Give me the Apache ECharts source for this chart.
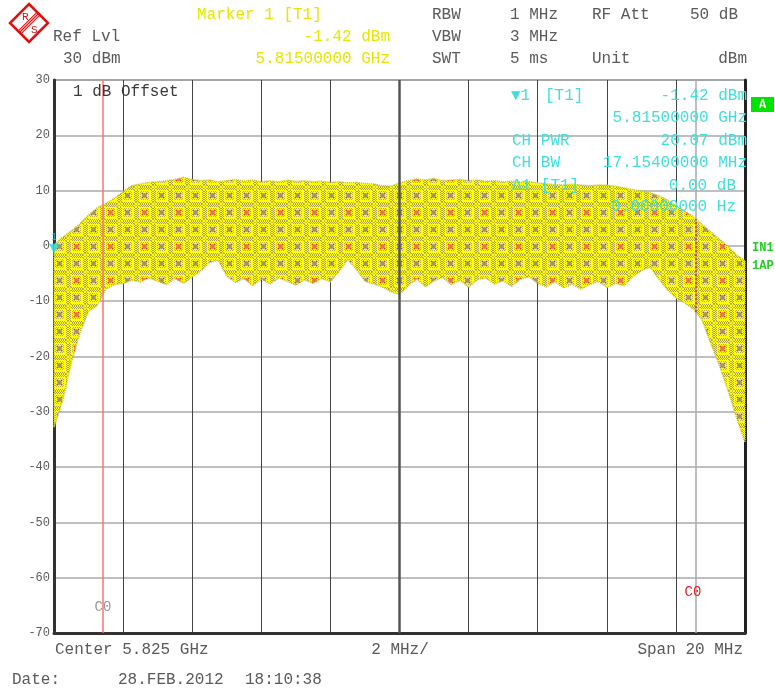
<!DOCTYPE html>
<html><head><meta charset="utf-8">
<script src="https://cdn.jsdelivr.net/npm/echarts@6/dist/echarts.min.js"></script>
<style>html,body{margin:0;padding:0;background:#fff}#c{width:775px;height:691px}</style>
</head><body><div id="c"></div>
<script>
// Frequency offset from centre (MHz), centre = 5.825 GHz, span 20 MHz
const freqMHz = [-10,-9.75,-9.5,-9.25,-9,-8.75,-8.5,-8.25,-8,-7.75,-7.5,-7.25,-7,-6.75,-6.5,-6.25,-6,-5.75,-5.5,-5.25,
  -5,-4.75,-4.5,-4.25,-4,-3.75,-3.5,-3.25,-3,-2.75,-2.5,-2.25,-2,-1.75,-1.5,-1.25,-1,-0.75,-0.5,-0.25,
  0,0.25,0.5,0.75,1,1.25,1.5,1.75,2,2.25,2.5,2.75,3,3.25,3.5,3.75,4,4.25,4.5,4.75,
  5,5.25,5.5,5.75,6,6.25,6.5,6.75,7,7.25,7.5,7.75,8,8.25,8.5,8.75,9,9.25,9.5,9.75,10];
// Upper envelope of the trace (dBm)
const upperDbm = [0.2,1.6,2.7,4.0,5.6,6.9,7.7,8.6,9.8,10.9,11.2,11.5,11.6,11.8,12.0,12.4,12.0,11.8,11.9,11.6,
  11.8,12.0,11.7,11.9,11.6,11.8,11.6,11.9,11.7,11.8,11.6,11.7,11.5,11.6,11.4,11.5,11.3,11.2,10.9,10.8,
  11.4,11.8,12.1,11.9,12.2,11.8,11.9,12.0,11.8,11.9,11.7,11.8,11.6,11.7,11.5,11.6,11.4,11.2,11.1,11.0,
  11.2,11.0,10.9,11.0,11.0,10.8,10.5,10.2,9.9,9.6,9.1,8.3,7.3,6.3,5.3,3.9,2.6,1.3,0.0,-1.6,-2.7];
// Lower envelope of the trace (dBm)
const lowerDbm = [-32.8,-28.0,-21.2,-15.8,-11.8,-10.8,-7.8,-7.0,-6.8,-6.2,-6.5,-5.8,-6.4,-7.0,-5.9,-6.8,-5.6,-4.5,-3.0,-2.6,
  -5.5,-6.6,-5.9,-7.2,-6.0,-6.9,-5.8,-6.4,-7.1,-6.1,-6.8,-5.9,-6.5,-4.6,-2.5,-4.2,-6.4,-6.9,-7.4,-8.3,
  -8.8,-7.2,-6.0,-7.4,-6.3,-5.7,-7.0,-6.2,-7.5,-6.1,-5.8,-6.9,-6.3,-7.3,-6.0,-5.6,-6.8,-7.4,-6.5,-7.6,
  -6.9,-7.8,-7.0,-6.4,-7.5,-6.8,-7.2,-5.6,-4.5,-3.8,-6.0,-7.9,-9.4,-10.3,-11.4,-13.3,-17.5,-21.5,-26.0,-31.0,-35.5];
const yTickLabels = ['30','20','10','0','-10','-20','-30','-40','-50','-60','-70'];
const channelEdges = [-8.577, 8.577];     // CH BW 17.154 MHz
const marker1 = [-10, -1.42];             // Marker 1 [T1]

const MONO = '"Liberation Mono","DejaVu Sans Mono",monospace';

function makePattern() {
  const N = 17;
  const c = document.createElement('canvas');
  c.width = N; c.height = N;
  const g = c.getContext('2d');
  g.fillStyle = '#ffff00'; g.fillRect(0, 0, N, N);
  for (let y = 0; y < N; y++) for (let x = 0; x < N; x++) {
    const inBandX = (x <= 2 || x >= 15), inBandY = (y <= 2 || y >= 15);
    const dx = Math.abs(x - 8), dy = Math.abs(y - 8);
    if ((inBandX || inBandY) && (x + y) % 2 === 0 && !(inBandX && inBandY)) {
      g.fillStyle = '#aaa24a'; g.fillRect(x, y, 1, 1);
    } else if (inBandX && inBandY && (x + y) % 2 === 1) {
      g.fillStyle = '#c8c040'; g.fillRect(x, y, 1, 1);
    } else if (dx <= 1 && dy <= 1) {
      g.fillStyle = '#9c9470'; g.fillRect(x, y, 1, 1);
    } else if (dx <= 3 && dy <= 3 && (dx === 2 || dy === 2)) {
      g.fillStyle = ((x + y) % 2 === 0) ? '#f08a28' : '#c8b070'; g.fillRect(x, y, 1, 1);
    } else if (dx <= 4 && dy <= 4 && (dx + dy) % 2 === 1 && (dx === 4 || dy === 4)) {
      g.fillStyle = '#b8b050'; g.fillRect(x, y, 1, 1);
    }
  }
  g.fillStyle = '#e83020';
  g.fillRect(6, 6, 1, 1); g.fillRect(10, 10, 1, 1); g.fillRect(10, 6, 1, 1); g.fillRect(6, 10, 1, 1);
  return c;
}
const pattern = { image: makePattern(), repeat: 'repeat' };

function interp(arr, f) {
  for (let i = 0; i < freqMHz.length - 1; i++) {
    if (f >= freqMHz[i] && f <= freqMHz[i + 1]) {
      const t = (f - freqMHz[i]) / (freqMHz[i + 1] - freqMHz[i]);
      return arr[i] + t * (arr[i + 1] - arr[i]);
    }
  }
  return arr[arr.length - 1];
}

function T(x, y, text, fill, opt) {
  opt = opt || {};
  return {
    type: 'text', x: x, y: y, z: 100, silent: true,
    style: {
      text: text, fill: fill,
      font: (opt.weight || 'normal') + ' ' + (opt.size || 16) + 'px ' + MONO,
      align: opt.align || 'left', verticalAlign: 'middle'
    }
  };
}

const GRAY = '#5a5a5a', YEL = '#e6e600', CYAN = '#40dede', GREEN = '#22cc22';

const graphics = [
  // R&S logo
  { type: 'polygon', z: 100, silent: true, shape: { points: [[29,4],[48,23],[29,42],[10,23]] },
    style: { fill: '#fff', stroke: '#e01010', lineWidth: 2.5 } },
  { type: 'line', z: 101, silent: true, shape: { x1: 18.1, y1: 31.1, x2: 37.1, y2: 12.1 }, style: { stroke: '#e01010', lineWidth: 1.2 } },
  { type: 'line', z: 101, silent: true, shape: { x1: 19.5, y1: 32.5, x2: 38.5, y2: 13.5 }, style: { stroke: '#e01010', lineWidth: 1.2 } },
  { type: 'line', z: 101, silent: true, shape: { x1: 20.9, y1: 33.9, x2: 39.9, y2: 14.9 }, style: { stroke: '#e01010', lineWidth: 1.2 } },
  T(22, 17, 'R', '#e01010', { size: 11 }),
  T(31, 30, 'S', '#e01010', { size: 11 }),
  // header
  T(197, 15, 'Marker 1 [T1]', YEL),
  T(53, 37, 'Ref Lvl', GRAY),
  T(390, 37, '-1.42 dBm', YEL, { align: 'right' }),
  T(63, 59, '30 dBm', GRAY),
  T(390, 59, '5.81500000 GHz', YEL, { align: 'right' }),
  T(432, 15, 'RBW', GRAY), T(510, 15, '1 MHz', GRAY), T(592, 15, 'RF Att', GRAY), T(690, 15, '50 dB', GRAY),
  T(432, 37, 'VBW', GRAY), T(510, 37, '3 MHz', GRAY),
  T(432, 59, 'SWT', GRAY), T(510, 59, '5 ms', GRAY), T(592, 59, 'Unit', GRAY), T(747, 59, 'dBm', GRAY, { align: 'right' }),
  // inside plot
  T(73, 92, '1 dB Offset', '#3a3a3a'),
  T(511, 96, '\u25BC1', CYAN), T(545, 96, '[T1]', CYAN), T(747, 96, '-1.42 dBm', CYAN, { align: 'right' }),
  T(747, 118, '5.81500000 GHz', CYAN, { align: 'right' }),
  T(512, 141, 'CH PWR', CYAN), T(747, 141, '20.07 dBm', CYAN, { align: 'right' }),
  T(512, 163, 'CH BW', CYAN), T(747, 163, '17.15400000 MHz', CYAN, { align: 'right' }),
  T(512, 186, '\u03941 [T1]', CYAN), T(736, 186, '0.00 dB', CYAN, { align: 'right' }),
  T(736, 207, '0.00000000 Hz', CYAN, { align: 'right' }),
  T(103, 607, 'C0', '#999', { size: 14, align: 'center' }),
  T(693, 592, 'C0', '#e02020', { size: 14, align: 'center' }),
  // right side annotations
  { type: 'rect', z: 100, silent: true, shape: { x: 751, y: 97, width: 23, height: 15 }, style: { fill: '#00e400' } },
  T(762.5, 105, 'A', '#fff', { size: 12, weight: 'bold', align: 'center' }),
  T(752, 248, 'IN1', GREEN, { size: 12, weight: 'bold' }),
  T(752, 266, '1AP', GREEN, { size: 12, weight: 'bold' }),
  // bottom
  T(55, 650, 'Center 5.825 GHz', GRAY),
  T(400, 650, '2 MHz/', GRAY, { align: 'center' }),
  T(743, 650, 'Span 20 MHz', GRAY, { align: 'right' }),
  T(12, 680, 'Date:', GRAY),
  T(118, 680, '28.FEB.2012', GRAY),
  T(245, 680, '18:10:38', GRAY)
];

const rightUp = interp(upperDbm, channelEdges[1]);
const rightLo = interp(lowerDbm, channelEdges[1]);

const chart = echarts.init(document.getElementById('c'), null, { renderer: 'canvas' });
chart.setOption({
  animation: false,
  backgroundColor: '#fff',
  grid: { left: 54, right: 30, top: 80, bottom: 58, show: true, borderColor: '#999', borderWidth: 2 },
  xAxis: {
    type: 'value', min: -10, max: 10, interval: 2,
    axisLine: { show: true, onZero: false, lineStyle: { color: '#333', width: 3 } },
    axisTick: { show: false }, axisLabel: { show: false },
    splitLine: { show: true, lineStyle: { color: '#444', width: 1 } }
  },
  yAxis: [{
    type: 'value', min: -70, max: 30, interval: 10,
    axisLine: { show: true, onZero: false, lineStyle: { color: '#333', width: 3 } },
    axisTick: { show: false },
    axisLabel: { color: GRAY, fontFamily: MONO, fontSize: 12, margin: 4,
      formatter: function (v) { return yTickLabels[Math.round((30 - v) / 10)]; } },
    splitLine: { show: true, lineStyle: { color: '#aaa', width: 1.5 } }
  }, {
    type: 'value', min: -70, max: 30, interval: 10, position: 'right',
    axisLine: { show: true, onZero: false, lineStyle: { color: '#222', width: 3 } },
    axisTick: { show: false }, axisLabel: { show: false }, splitLine: { show: false }
  }],
  series: [
    { type: 'line', data: [], z: 1, silent: true,
      markLine: { silent: true, symbol: 'none', label: { show: false },
        lineStyle: { color: '#555', width: 2.5, type: 'solid' }, data: [{ xAxis: 0 }] } },
    { type: 'custom', z: 3, silent: true, data: [[0, 0]],
      renderItem: function (params, api) {
        const pts = [];
        for (let i = 0; i < freqMHz.length; i++) pts.push(api.coord([freqMHz[i], upperDbm[i]]));
        for (let i = freqMHz.length - 1; i >= 0; i--) pts.push(api.coord([freqMHz[i], lowerDbm[i]]));
        return { type: 'polygon', shape: { points: pts },
          style: { fill: pattern, stroke: '#c8c034', lineWidth: 1.5, lineDash: [1, 1] } };
      } },
    { type: 'line', data: [], z: 5, silent: true,
      markLine: { silent: true, symbol: 'none', label: { show: false },
        data: [
          { xAxis: channelEdges[0], lineStyle: { color: '#ff7070', width: 1.5, type: 'solid' } },
          { xAxis: channelEdges[1], lineStyle: { color: '#aaaaaa', width: 1.5, type: 'solid' } },
          [{ coord: [channelEdges[1], rightLo], lineStyle: { color: '#e02020', width: 1.5, type: [2, 2] } },
           { coord: [channelEdges[1], rightUp] }]
        ] } },
    { type: 'scatter', z: 6, silent: true, clip: false, data: [marker1],
      symbol: 'triangle', symbolRotate: 180, symbolSize: [10, 10], symbolOffset: [0, -5],
      itemStyle: { color: '#20d8e0' },
      label: { show: true, position: 'top', formatter: '1', color: '#20d8e0', fontSize: 10, fontFamily: MONO, distance: 1 } }
  ],
  graphic: graphics
});
</script></body></html>
